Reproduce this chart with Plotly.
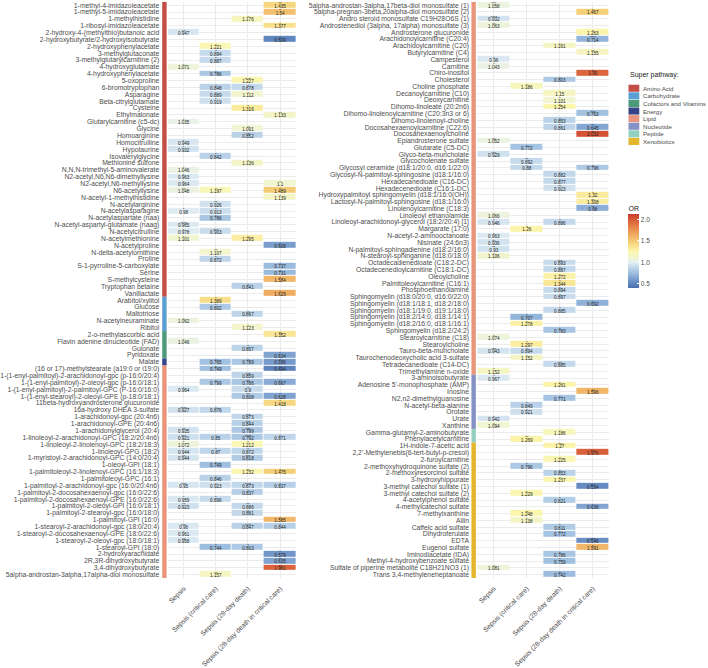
import plotly.graph_objects as go

# ---------------- data ----------------
columns = ["Sepsis", "Sepsis (critical care)", "Sepsis (28-day death)",
           "Sepsis (28-day death in critical care)"]

pathways = ["Amino Acid", "Carbohydrate", "Cofactors and Vitamins", "Energy",
            "Lipid", "Nucleotide", "Peptide", "Xenobiotics"]
pathway_colors = ["#c44d45", "#5a9fd4", "#4c9a7a", "#34448a",
                  "#e8957b", "#8590c4", "#92cfbf", "#e5b62c"]

N = None
# ---- left panel ----
left_names = [
    "1-methyl-4-imidazoleacetate", "1-methyl-5-imidazoleacetate", "1-methylhistidine",
    "1-ribosyl-imidazoleacetate", "2-hydroxy-4-(methylthio)butanoic acid",
    "2-hydroxybutyrate/2-hydroxyisobutyrate", "2-hydroxyphenylacetate",
    "3-methylglutaconate", "3-methylglutarylcarnitine (2)", "4-hydroxyglutamate",
    "4-hydroxyphenylacetate", "5-oxoproline", "6-bromotryptophan", "Asparagine",
    "Beta-citrylglutamate", "Cysteine", "Ethylmalonate", "Glutarylcarnitine (c5-dc)",
    "Glycine", "Homoarginine", "Homocitrulline", "Hypotaurine", "Isovalerylglycine",
    "Methionine sulfone", "N,N,N-trimethyl-5-aminovalerate",
    "N2-acetyl,N6,N6-dimethyllysine", "N2-acetyl,N6-methyllysine", "N6-acetyllysine",
    "N-acetyl-1-methylhistidine", "N-acetylarginine", "N-acetylasparagine",
    "N-acetylaspartate (naa)", "N-acetyl-aspartyl-glutamate (naag)",
    "N-acetylcitrulline", "N-acetylmethionine", "N-acetylproline",
    "N-delta-acetylornithine", "Proline", "S-1-pyrroline-5-carboxylate", "Serine",
    "S-methylcysteine", "Tryptophan betaine", "Vanillactate",
    "Arabitol/xylitol", "Glucose", "Maltotriose", "N-acetylneuraminate", "Ribitol",
    "2-o-methylascorbic acid", "Flavin adenine dinucleotide (FAD)", "Gulonate",
    "Pyridoxate", "Malate",
    "(16 or 17)-methylstearate (a19:0 or i19:0)",
    "1-(1-enyl-palmitoyl)-2-arachidonoyl-gpc (p-16:0/20:4)",
    "1-(1-enyl-palmitoyl)-2-oleoyl-gpc (p-16:0/18:1)",
    "1-(1-enyl-palmitoyl)-2-palmitoyl-GPC (P-16:0/16:0)",
    "1-(1-enyl-stearoyl)-2-oleoyl-GPE (p-18:0/18:1)",
    "11beta-hydroxyandrosterone glucuronide", "16a-hydroxy DHEA 3-sulfate",
    "1-arachidonoyl-gpc (20:4n6)", "1-arachidonoyl-GPE (20:4n6)",
    "1-arachidonylglycerol (20:4)", "1-linoleoyl-2-arachidonoyl-GPC (18:2/20:4n6)",
    "1-linoleoyl-2-linolenoyl-GPC (18:2/18:3)", "1-linoleoyl-GPG (18:2)",
    "1-myristoyl-2-arachidonoyl-GPC (14:0/20:4)", "1-oleoyl-GPI (18:1)",
    "1-palmitoleoyl-2-linolenoyl-GPC (16:1/18:3)", "1-palmitoleoyl-GPC (16:1)",
    "1-palmitoyl-2-arachidonoyl-gpc (16:0/20:4n6)",
    "1-palmitoyl-2-docosahexaenoyl-gpc (16:0/22:6)",
    "1-palmitoyl-2-docosahexaenoyl-GPE (16:0/22:6)",
    "1-palmitoyl-2-oleoyl-GPI (16:0/18:1)", "1-palmitoyl-2-stearoyl-gpc (16:0/18:0)",
    "1-palmitoyl-GPI (16:0)", "1-stearoyl-2-arachidonoyl-gpc (18:0/20:4)",
    "1-stearoyl-2-docosahexaenoyl-GPE (18:0/22:6)", "1-stearoyl-2-oleoyl-gpc (18:0/18:1)",
    "1-stearoyl-GPI (18:0)", "2-hydroxyarachidate", "2R,3R-dihydroxybutyrate",
    "3,4-dihydroxybutyrate", "5alpha-androstan-3alpha,17alpha-diol monosulfate",
]
left_pathway_counts = [43, 5, 4, 1, 31, 0, 0, 0]

left_c1 = [N, N, N, N, 0.947, N, N, N, N, 1.071, N, N, N, N, N, N, N, 1.035, N, N,
           0.949, 0.932, N, N, 1.046, 0.963, 0.964, 1.048, N, N, 0.98, N, 0.965, 0.978,
           1.101, N, N, N, N, N, N, N, N, N, N, N, 1.062, N, N, 1.046, N, N, N, N, N, N,
           0.964, N, N, 0.927, N, N, 0.935, 0.921, 1.072, 0.944, 0.944, N, N, N, 0.95, N,
           0.959, 0.923, N, N, 0.96, 0.961, 0.958, N, N, N, N, N]
left_c2 = [N, N, N, N, N, N, 1.221, 0.894, 0.887, N, 0.786, N, 0.848, 0.889, 0.919, N,
           N, N, N, N, N, N, 0.842, N, N, N, N, 1.197, N, 0.926, 0.913, 0.786, N, 0.903,
           N, N, 1.107, 0.872, N, N, N, N, N, 1.389, 0.802, N, N, N, N, N, N, N, 0.765,
           0.749, N, 0.799, N, N, N, 0.876, N, N, N, 0.85, N, 0.87, N, 0.749, N, 0.846,
           0.923, N, 0.896, N, N, N, N, N, N, 0.744, N, N, N, 1.157]
left_c3 = [N, N, 1.176, N, N, N, N, N, N, N, N, 1.227, 0.878, 1.112, N, 1.316, N, N,
           1.091, 0.852, N, N, N, 1.136, N, N, N, N, N, N, N, N, N, N, 1.295, N, N, N, N,
           N, N, 0.841, N, N, N, 0.867, N, 1.123, N, N, 0.857, N, 0.789, N, 0.859, 0.786,
           0.9, 0.808, N, N, 0.873, 0.844, 0.799, 0.792, 1.212, 0.872, 0.818, N, 1.232, N,
           0.873, 0.837, N, 0.886, 0.881, N, 0.847, N, N, 0.803, N, N, N, N]
left_c4 = [1.435, 1.54, N, 1.377, N, 0.509, N, N, N, N, N, N, N, N, N, N, 1.133, N, N,
           N, N, N, N, N, N, N, 1.1, 1.489, 1.139, N, N, N, N, N, N, 0.608, N, N, 0.737,
           0.731, 1.584, N, 1.629, N, N, N, N, N, 1.352, N, N, 0.634, 0.596, 0.494, N,
           0.667, N, 0.628, 1.418, N, N, N, N, 0.871, N, N, N, N, 1.475, N, 0.837, N, N,
           N, N, 1.585, 0.844, N, N, N, 0.579, 0.635, 1.961, N]
left_s1 = ["", "", "", "", "**", "", "", "", "", "*", "", "", "", "", "", "", "", "*", "",
           "", "*", "*", "", "", "*", "*", "*", "**", "", "", "*", "", "****", "*", "*",
           "", "", "", "", "", "", "", "", "", "", "", "*", "", "", "*", "", "", "", "",
           "", "", "*", "", "", "****", "", "", "**", "***", "*", "*", "**", "", "", "",
           "***", "", "*", "**", "", "", "***", "*", "**", "", "", "", "", ""]
left_s2 = ["", "", "", "", "", "", "*", "*", "*", "", "*", "", "*", "*", "*", "", "", "",
           "", "", "", "", "*", "", "", "", "", "*", "", "**", "*", "*", "", "***", "", "",
           "**", "*", "", "", "", "", "", "*", "*", "", "", "", "", "", "", "", "*", "*",
           "", "*", "", "", "", "*", "", "", "", "*", "", "*", "", "*", "", "*", "*", "",
           "*", "", "", "", "", "", "", "*", "", "", "", "**"]
left_s3 = ["", "", "*", "", "", "", "", "", "", "", "", "****", "*", "*", "", "*", "",
           "", "*", "***", "", "", "", "*", "", "", "", "", "", "", "", "", "", "", "*",
           "", "", "", "", "", "", "*", "", "", "", "*", "", "*", "", "", "*", "", "*",
           "", "***", "**", "*", "**", "", "", "***", "***", "***", "****", "*", "*",
           "***", "", "**", "", "****", "*", "", "**", "*", "", "****", "", "", "*", "",
           "", "", ""]
left_s4 = ["**", "*", "", "*", "", "*", "", "", "", "", "", "", "", "", "", "", "**", "",
           "", "", "", "", "", "", "", "", "*", "*", "*", "", "", "", "", "", "", "*", "",
           "", "*", "*", "*", "", "*", "", "", "", "", "", "**", "", "", "*", "*", "*",
           "", "*", "", "*", "*", "", "", "", "", "*", "", "", "", "", "*", "", "*", "",
           "", "", "", "*", "*", "", "", "", "*", "**", "**", ""]

# ---- right panel ----
right_names = [
    "5alpha-androstan-3alpha,17beta-diol monosulfate (1)",
    "5alpha-pregnan-3beta,20alpha-diol monosulfate (2)",
    "Andro steroid monosulfate C19H28O6S (1)",
    "Androstenediol (3alpha, 17alpha) monosulfate (3)", "Androsterone glucuronide",
    "Arachidonoylcarnitine (C20:4)", "Arachidoylcarnitine (C20)", "Butyrylcarnitine (C4)",
    "Campesterol", "Carnitine", "Chiro-inositol", "Cholesterol", "Choline phosphate",
    "Decanoylcarnitine (C10)", "Deoxycarnitine", "Dihomo-linoleate (20:2n6)",
    "Dihomo-linolenoylcarnitine (C20:3n3 or 6)", "Dihomo-linolenoyl-choline",
    "Docosahexaenoylcarnitine (C22:6)", "Docosahexaenoylcholine",
    "Epiandrosterone sulfate", "Glutarate (C5-DC)", "Glyco-beta-muricholate",
    "Glycocholenate sulfate", "Glycosyl ceramide (d18:1/20:0, d16:1/22:0)",
    "Glycosyl-N-palmitoyl-sphingosine (d18:1/16:0)", "Hexadecanedioate (C16-DC)",
    "Hexadecenedioate (C16:1-DC)", "Hydroxypalmitoyl sphingomyelin (d18:1/16:0(OH))",
    "Lactosyl-N-palmitoyl-sphingosine (d18:1/16:0)", "Linolenoylcarnitine (C18:3)",
    "Linoleoyl ethanolamide", "Linoleoyl-arachidonoyl-glycerol (18:2/20:4) [1]",
    "Margarate (17:0)", "N-acetyl-2-aminooctanoate", "Nisinate (24:6n3)",
    "N-palmitoyl-sphingadienine (d18:2/16:0)", "N-stearoyl-sphinganine (d18:0/18:0)",
    "Octadecadienedioate (C18:2-DC)", "Octadecenedioylcarnitine (C18:1-DC)",
    "Oleoylcholine", "Palmitoleoylcarnitine (C16:1)", "Phosphoethanolamine",
    "Sphingomyelin (d18:0/20:0, d16:0/22:0)", "Sphingomyelin (d18:1/18:1, d18:2/18:0)",
    "Sphingomyelin (d18:1/19:0, d19:1/18:0)", "Sphingomyelin (d18:2/14:0, d18:1/14:1)",
    "Sphingomyelin (d18:2/16:0, d18:1/16:1)", "Sphingomyelin (d18:2/24:2)",
    "Stearoylcarnitine (C18)", "Stearoylcholine", "Tauro-beta-muricholate",
    "Taurochenodeoxycholic acid 3-sulfate", "Tetradecanedioate (C14-DC)",
    "Trimethylamine n-oxide",
    "3-aminoisobutyrate", "Adenosine 5'-monophosphate (AMP)", "Inosine",
    "N2,n2-dimethylguanosine", "N-acetyl-beta-alanine", "Orotate", "Urate", "Xanthine",
    "Gamma-glutamyl-2-aminobutyrate", "Phenylacetylcarnitine",
    "1H-indole-7-acetic acid", "2,2'-Methylenebis(6-tert-butyl-p-cresol)",
    "2-furoylcarnitine", "2-methoxyhydroquinone sulfate (2)",
    "2-methoxyresorcinol sulfate", "3-hydroxyhippurate", "3-methyl catechol sulfate (1)",
    "3-methyl catechol sulfate (2)", "4-acetylphenol sulfate", "4-methylcatechol sulfate",
    "7-methylxanthine", "Allin", "Caffeic acid sulfate", "Dihydroferulate", "EDTA",
    "Eugenol sulfate", "Iminodiacetate (IDA)", "Methyl-4-hydroxybenzoate sulfate",
    "Sulfate of piperine metabolite C18H21NO3 (1)", "Trans 3,4-methyleneheptanoate",
]
right_pathway_counts = [0, 0, 0, 0, 55, 8, 2, 20]

right_c1 = [1.058, N, 0.932, 1.063, N, N, N, N, 0.96, 1.043, N, N, N, N, N, N, N, N, N,
            N, 1.052, N, 0.929, N, N, N, N, N, N, N, N, 1.066, 0.946, N, 0.963, 0.936,
            0.93, 1.106, N, N, N, N, N, N, N, N, N, N, N, 1.074, N, 0.943, N, N, 1.152,
            0.967, N, N, N, N, N, 0.942, 1.094, N, N, N, N, N, N, N, N, N, N, N, N, N, N,
            N, N, N, N, N, N, 1.081, N]
right_c2 = [N, N, N, N, N, N, N, N, N, N, N, N, 1.186, N, N, N, N, N, N, N, N, 0.772,
            N, 0.892, 0.88, N, N, N, N, N, N, N, N, 1.26, N, N, N, N, N, N, N, N, N, N, N,
            N, 0.707, 1.278, N, N, 1.297, 0.894, 1.152, N, N, N, N, N, N, 0.849, 0.921, N,
            N, N, 1.269, N, N, N, 0.796, N, N, N, 1.229, N, N, 1.248, 1.138, N, N, N, N,
            N, N, N, N]
right_c3 = [N, N, N, N, N, N, 1.161, N, N, N, N, 0.803, N, 1.15, 1.101, 1.254, N, 0.853,
            0.861, N, N, N, N, N, N, 0.882, 0.877, 0.923, N, N, N, N, 0.886, N, N, N, N,
            N, 0.893, 0.887, 1.272, 1.344, 0.894, 0.897, N, 0.885, N, N, 0.783, N, N, N,
            N, 0.885, N, N, 1.261, N, 0.771, N, N, N, N, 1.186, N, 1.27, N, 1.225, N,
            0.853, 1.237, N, N, 0.821, N, N, N, 0.811, 0.772, N, N, 0.786, 0.759, N, 0.742]
right_c4 = [N, 1.467, N, N, 1.263, 0.714, N, 1.155, N, N, 1.95, N, N, N, N, N, 0.763, N,
            0.645, 2.032, N, N, N, N, 0.796, N, N, N, 1.32, 1.308, 0.68, N, N, N, N, N, N,
            N, N, N, N, N, N, N, 0.692, N, N, N, N, N, N, N, N, N, N, N, N, 1.596, N, N,
            N, N, N, N, N, N, 1.976, N, N, N, N, 0.534, N, N, 0.636, N, N, N, N, 0.546,
            1.591, N, N, N, N]
right_s1 = ["***", "", "****", "**", "", "", "", "", "*", "*", "", "", "", "", "", "", "",
            "", "", "", "**", "", "***", "", "", "", "", "", "", "", "", "*", "*", "", "*",
            "**", "**", "*", "", "", "", "", "", "", "", "", "", "", "", "*", "", "***", "",
            "", "*", "*", "", "", "", "", "", "*", "*", "", "", "", "", "", "", "", "", "",
            "", "", "", "", "", "", "", "", "", "", "", "*", ""]
right_s2 = ["", "", "", "", "", "", "", "", "", "", "", "", "*", "", "", "", "", "", "",
            "", "", "*", "", "**", "*", "", "", "", "", "", "", "", "", "*", "", "", "",
            "", "", "", "", "", "", "", "", "", "*", "*", "", "", "*", "*", "*", "", "",
            "", "", "", "", "*", "*", "", "", "", "**", "", "", "", "*", "", "", "", "*",
            "", "", "**", "*", "", "", "", "", "", "", "", ""]
right_s3 = ["", "", "", "", "", "", "*", "", "", "", "", "*", "", "*", "*", "*", "", "*",
            "*", "", "", "", "", "", "", "*", "*", "**", "", "", "", "", "*", "", "", "",
            "", "", "***", "**", "*", "*", "*", "*", "", "*", "", "", "*", "", "", "", "",
            "***", "", "", "*", "", "*", "", "", "", "", "*", "", "***", "", "*", "", "*",
            "*", "", "", "*", "", "", "", "*", "*", "", "", "*", "*", "", "**"]
right_s4 = ["", "*", "", "", "*", "****", "", "**", "", "", "**", "", "", "", "", "",
            "***", "", "**", "**", "", "", "", "", "*", "", "", "", "*", "**", "**", "",
            "", "", "", "", "", "", "", "", "", "", "", "", "*", "", "", "", "", "", "",
            "", "", "", "", "", "", "*", "", "", "", "", "", "", "", "", "***", "", "", "",
            "", "***", "", "", "*", "", "", "", "", "***", "*", "", "", "", ""]

# ---------------- styling ----------------
FONT = "Liberation Sans, Arial, sans-serif"
LABEL_COLOR = "#4d4d4d"
LABEL_SIZE = 6.8
ZMIN, ZMAX = 0.4, 2.12


def vpos(v):
    return (v - ZMIN) / (ZMAX - ZMIN)


stops = [(0.40, "#4a6fb0"), (0.55, "#6a8fc5"), (0.75, "#9fbfe0"), (0.90, "#c8dced"),
         (1.00, "#e6f0f3"), (1.10, "#f1f5d0"), (1.25, "#fcf6ad"), (1.45, "#f6d47b"),
         (1.60, "#f1b466"), (1.80, "#e8874c"), (2.00, "#d65a37"), (2.12, "#c93a2b")]
colorscale = [[vpos(v), c] for v, c in stops]

fig = go.Figure()

panels = [
    dict(names=left_names, cols=[left_c1, left_c2, left_c3, left_c4],
         stars=[left_s1, left_s2, left_s3, left_s4], counts=left_pathway_counts,
         xa="x", ya="y", strip_x=(152.0, 156.5)),
    dict(names=right_names, cols=[right_c1, right_c2, right_c3, right_c4],
         stars=[right_s1, right_s2, right_s3, right_s4], counts=right_pathway_counts,
         xa="x2", ya="y2", strip_x=(467.0, 471.5)),
]

W, H = 708, 668
shapes = []
for p in panels:
    n = len(p["names"])
    rows = list(range(n))
    z = [[p["cols"][c][r] for c in range(4)] for r in rows]
    fig.add_trace(go.Heatmap(
        z=z, x=list(range(4)), y=rows, coloraxis="coloraxis",
        xgap=1, ygap=1, xaxis=p["xa"], yaxis=p["ya"], hoverongaps=False))
    # value labels and significance stars
    tx, ty, tt, sx, sy, st = [], [], [], [], [], []
    for c in range(4):
        for r in rows:
            v = p["cols"][c][r]
            if v is None:
                continue
            tx.append(c); ty.append(r + 0.2); tt.append(f"{v:g}")
            if p["stars"][c][r]:
                sx.append(c); sy.append(r - 0.12); st.append(p["stars"][c][r])
    fig.add_trace(go.Scatter(x=tx, y=ty, text=tt, mode="text", xaxis=p["xa"],
                             yaxis=p["ya"], showlegend=False, hoverinfo="skip",
                             textfont=dict(size=4.6, color="#222222", family=FONT)))
    fig.add_trace(go.Scatter(x=sx, y=sy, text=st, mode="text", xaxis=p["xa"],
                             yaxis=p["ya"], showlegend=False, hoverinfo="skip",
                             textfont=dict(size=4.2, color="#222222", family=FONT)))
    # pathway strip
    start = 0
    for k, cnt in enumerate(p["counts"]):
        if cnt == 0:
            continue
        shapes.append(dict(type="rect", xref="paper", yref=p["ya"],
                           x0=p["strip_x"][0] / W, x1=p["strip_x"][1] / W,
                           y0=start - 0.5, y1=start + cnt - 0.5,
                           fillcolor=pathway_colors[k], line=dict(width=0), layer="above"))
        start += cnt

ydom = [1 - 589.5 / H, 1 - 1.8 / H]
axis_common = dict(showline=False, zeroline=False, gridcolor="#ebebeb", gridwidth=0.6)

fig.update_layout(
    width=W, height=H, margin=dict(l=0, r=0, t=0, b=0),
    paper_bgcolor="white", plot_bgcolor="white",
    font=dict(family=FONT, size=LABEL_SIZE, color=LABEL_COLOR),
    showlegend=False,
    xaxis=dict(domain=[157.5 / W, 288.5 / W], range=[-0.5, 3.5], tickvals=[0, 1, 2, 3],
               ticktext=columns, tickangle=-45, ticks="outside", ticklen=3,
               tickcolor="rgba(0,0,0,0)", tickfont=dict(size=LABEL_SIZE, color=LABEL_COLOR),
               anchor="y", **axis_common),
    yaxis=dict(domain=ydom, range=[len(left_names) - 0.5, -0.5],
               tickvals=list(range(len(left_names))), ticktext=left_names,
               ticks="outside", ticklen=6, tickcolor="rgba(0,0,0,0)",
               tickfont=dict(size=LABEL_SIZE, color=LABEL_COLOR), anchor="x", **axis_common),
    xaxis2=dict(domain=[473 / W, 607.5 / W], range=[-0.5, 3.5], tickvals=[0, 1, 2, 3],
                ticktext=columns, tickangle=-45, ticks="outside", ticklen=3,
                tickcolor="rgba(0,0,0,0)", tickfont=dict(size=LABEL_SIZE, color=LABEL_COLOR),
                anchor="y2", **axis_common),
    yaxis2=dict(domain=ydom, range=[len(right_names) - 0.5, -0.5],
                tickvals=list(range(len(right_names))), ticktext=right_names,
                ticks="outside", ticklen=6, tickcolor="rgba(0,0,0,0)",
                tickfont=dict(size=LABEL_SIZE, color=LABEL_COLOR), anchor="x2", **axis_common),
    coloraxis=dict(
        colorscale=colorscale, cmin=ZMIN, cmax=ZMAX,
        colorbar=dict(
            title=dict(text="OR", side="top", font=dict(size=7, color="#222222")),
            x=627 / W, xanchor="left", xpad=0, y=1 - 294 / H, yanchor="bottom", ypad=0,
            thickness=11, len=86, lenmode="pixels", outlinewidth=0,
            tickvals=[0.5, 1.0, 1.5, 2.0], ticktext=["0.5", "1.0", "1.5", "2.0"],
            ticks="inside", ticklen=2, tickcolor="white",
            tickfont=dict(size=6.5, color=LABEL_COLOR))),
)

# manual legend for super pathway
annotations = [dict(text="Super pathway:", xref="paper", yref="paper", x=626 / W,
                    y=1 - 76 / H, xanchor="left", yanchor="middle", showarrow=False,
                    font=dict(size=7, color="#222222"))]
for k, (name, col) in enumerate(zip(pathways, pathway_colors)):
    yc = 90 + k * 7.75
    shapes.append(dict(type="rect", xref="paper", yref="paper", x0=627 / W, x1=638 / W,
                       y0=1 - (yc + 3.6) / H, y1=1 - (yc - 3.6) / H, fillcolor=col,
                       line=dict(width=0)))
    annotations.append(dict(text=name, xref="paper", yref="paper", x=640 / W,
                            y=1 - yc / H, xanchor="left", yanchor="middle",
                            showarrow=False, font=dict(size=6.1, color=LABEL_COLOR)))

fig.update_layout(shapes=shapes, annotations=annotations)
fig.write_html("out.html")
